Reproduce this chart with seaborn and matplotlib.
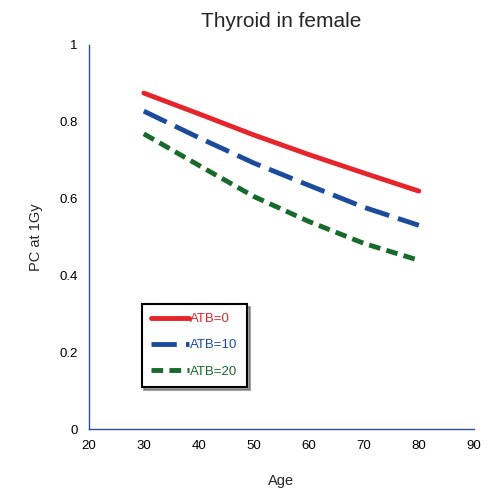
import matplotlib
matplotlib.use("Agg")
import matplotlib.pyplot as plt
import seaborn as sns
import pandas as pd

ages = [30, 40, 50, 60, 70, 80]
atb0 = [0.874, 0.820, 0.765, 0.714, 0.666, 0.619]
atb10 = [0.827, 0.758, 0.692, 0.634, 0.577, 0.530]
atb20 = [0.768, 0.686, 0.605, 0.540, 0.483, 0.439]
series_names = ["ATB=0", "ATB=10", "ATB=20"]
colors = ["#e5252b", "#1d4b9b", "#17692c"]

rows = []
for name, vals in zip(series_names, [atb0, atb10, atb20]):
    for a, v in zip(ages, vals):
        rows.append({"Age": a, "PC": v, "series": name})
df = pd.DataFrame(rows)

sns.set_style("white")
plt.rcParams['font.family'] = ['Liberation Sans', 'DejaVu Sans']

fig = plt.figure(figsize=(4.88, 4.96), dpi=100)
ax = fig.add_axes([0.182, 0.135, 0.789, 0.775])

palette = dict(zip(series_names, colors))
dashes = {"ATB=0": "", "ATB=10": (5.2, 1.9), "ATB=20": (2.4, 1.3)}
sns.lineplot(data=df, x="Age", y="PC", hue="series", style="series",
             palette=palette, dashes=dashes, linewidth=3.5, ax=ax, legend=False)

ax.set_xlim(20, 90)
ax.set_ylim(0, 1)
ax.set_xticks([20, 30, 40, 50, 60, 70, 80, 90])
ax.set_yticks([0, 0.2, 0.4, 0.6, 0.8, 1])
ax.set_yticklabels(["0", "0.2", "0.4", "0.6", "0.8", "1"])
spine_color = "#2b4f9a"
for s in ["top", "right"]:
    ax.spines[s].set_visible(False)
for s in ["left", "bottom"]:
    ax.spines[s].set_color(spine_color)
    ax.spines[s].set_linewidth(1.0)
ax.tick_params(axis="both", direction="in", length=5, width=1.0,
               color=spine_color, labelsize=9.5, labelcolor="black", pad=8)
ax.set_xlabel("Age", fontsize=10.5, labelpad=16)
ax.set_ylabel("PC at 1Gy", fontsize=10.5, labelpad=12)
ax.set_title("Thyroid in female", fontsize=15, pad=13)

from matplotlib.lines import Line2D
handles = []
for name, c in zip(series_names, colors):
    d = dashes[name]
    h = Line2D([0], [0], color=c, linewidth=3.5,
               linestyle="-" if d == "" else (0, d))
    handles.append(h)
leg = ax.legend(handles, series_names, loc="lower left",
                bbox_to_anchor=(0.137, 0.11), fontsize=9.5, handlelength=2.9,
                handletextpad=0.1, labelspacing=1.05, frameon=True,
                fancybox=False, shadow=True, edgecolor="black",
                borderpad=0.7, borderaxespad=0)
leg.get_frame().set_linewidth(1.5)
for t, c in zip(leg.get_texts(), colors):
    t.set_color(c)

fig.savefig("out.png", dpi=100)
